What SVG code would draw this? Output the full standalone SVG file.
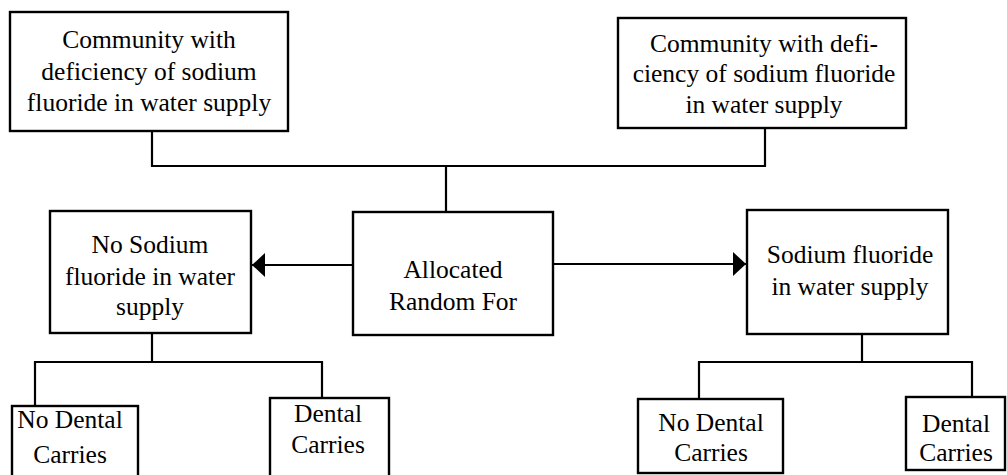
<svg xmlns="http://www.w3.org/2000/svg" width="1007" height="475" viewBox="0 0 1007 475" font-family="'Liberation Serif', 'DejaVu Serif', 'Times New Roman', serif">
<style>
.box{fill:#fff;stroke:#000;stroke-width:2.4}
.ln{fill:none;stroke:#000;stroke-width:2.2}
.t{font-family:'Liberation Serif','DejaVu Serif','Times New Roman',serif;font-size:25.5px;fill:#000;text-anchor:middle}
</style>
<defs>
<marker id="ah" markerUnits="userSpaceOnUse" markerWidth="14" markerHeight="24" viewBox="0 0 14 24" refX="13" refY="12" orient="auto">
<path d="M0,0 L13,12 L0,24 Z" fill="#000"/>
</marker>
</defs>
<rect width="1007" height="475" fill="#fff"/>
<g id="connectors">
<path class="ln" d="M152,131 V166 H765 V128"/>
<path class="ln" d="M446,166 V212"/>
<path class="ln" d="M353,265 H252" marker-end="url(#ah)"/>
<path class="ln" d="M553,264 H746" marker-end="url(#ah)"/>
<path class="ln" d="M152,333 V362"/>
<path class="ln" d="M35,406 V362 H322 V398"/>
<path class="ln" d="M862,334 V362"/>
<path class="ln" d="M699,399 V362 H972 V397"/>
</g>
<g id="community1" class="t">
<rect class="box" x="10" y="12" width="278" height="119"/>
<text x="149" y="48">Community with</text>
<text x="149" y="80">deficiency of sodium</text>
<text x="149" y="111">fluoride in water supply</text>
</g>
<g id="community2" class="t">
<rect class="box" x="618" y="18" width="288" height="110"/>
<text x="764" y="52">Community with defi-</text>
<text x="764" y="82">ciency of sodium fluoride</text>
<text x="764" y="113">in water supply</text>
</g>
<g id="no-sodium" class="t">
<rect class="box" x="50" y="211" width="201" height="122"/>
<text x="150" y="253">No Sodium</text>
<text x="150" y="285">fluoride in water</text>
<text x="150" y="315">supply</text>
</g>
<g id="allocated" class="t">
<rect class="box" x="353" y="212" width="200" height="123"/>
<text x="453" y="278">Allocated</text>
<text x="453" y="310">Random For</text>
</g>
<g id="sodium" class="t">
<rect class="box" x="747" y="210" width="201" height="124"/>
<text x="850" y="263">Sodium fluoride</text>
<text x="850" y="295">in water supply</text>
</g>
<g id="no-dental-left" class="t">
<rect class="box" x="12" y="406" width="126" height="80"/>
<text x="70" y="428">No Dental</text>
<text x="70" y="463">Carries</text>
</g>
<g id="dental-left" class="t">
<rect class="box" x="270" y="398" width="119" height="90"/>
<text x="328" y="422">Dental</text>
<text x="328" y="453">Carries</text>
</g>
<g id="no-dental-right" class="t">
<rect class="box" x="638" y="399" width="145" height="74"/>
<text x="711" y="431">No Dental</text>
<text x="711" y="461">Carries</text>
</g>
<g id="dental-right" class="t">
<rect class="box" x="906" y="397" width="99" height="73"/>
<text x="956" y="432">Dental</text>
<text x="956" y="461">Carries</text>
</g>
</svg>
